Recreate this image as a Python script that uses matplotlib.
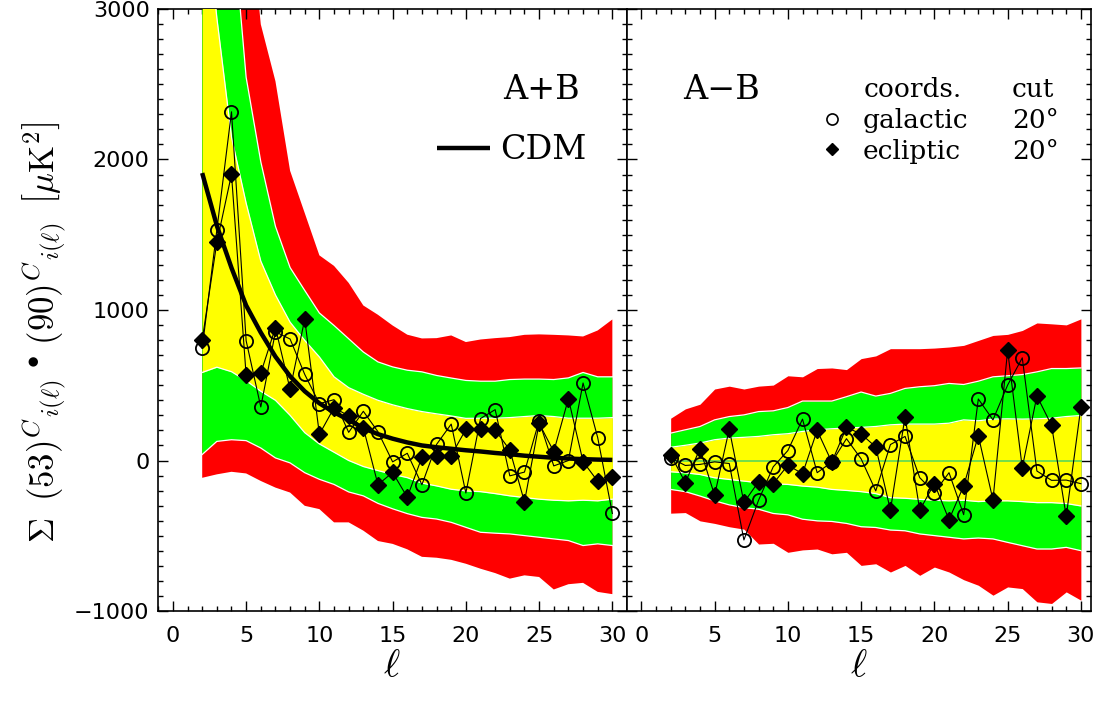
"""Cross-power sums C(53)·C(90) per multipole, A+B and A-B, with CDM bands."""
import matplotlib
matplotlib.use("Agg")
import matplotlib.pyplot as plt
from matplotlib.lines import Line2D
from matplotlib.ticker import MultipleLocator

plt.rcParams["mathtext.fontset"] = "cm"
plt.rcParams["font.family"] = ["DejaVu Sans"]

ELL = list(range(2, 31))

# ---- A+B panel -------------------------------------------------------------
SUM_GALACTIC = [745, 1532, 2317, 796, 356, 855, 807, 572, 378, 404, 187, 327, 191, -9,
                48, -161, 107, 242, -216, 279, 338, -102, -77, 264, -36, 0, 515, 152, -352]
SUM_ECLIPTIC = [800, 1449, 1901, 565, 581, 883, 473, 939, 174, 350, 297, 218, -161, -79,
                -244, 22, 27, 33, 207, 207, 202, 70, -275, 247, 59, 411, -7, -138, -110]
SUM_CDM = [1910, 1560, 1280, 1030, 850, 690, 560, 460, 380, 320, 270, 215, 175, 145,
           120, 100, 88, 78, 68, 60, 50, 42, 32, 25, 18, 13, 9, 6, 4]

SUM_RED_HI = [4600, 4400, 4200, 3900, 2898, 2520, 1925, 1644, 1363, 1293, 1180, 1030, 968, 897,
              836, 811, 813, 831, 787, 804, 813, 820, 835, 838, 835, 831, 824, 864, 937]
SUM_GREEN_HI = [4900, 4300, 3672, 2546, 1985, 1556, 1282, 1130, 980, 897, 809, 721, 655, 622,
                600, 589, 565, 548, 532, 527, 527, 538, 541, 541, 538, 549, 585, 556, 556]
SUM_YELLOW_HI = [3900, 2942, 2150, 1710, 1325, 1100, 919, 798, 688, 556, 484, 440, 400, 370,
                 345, 325, 310, 296, 280, 281, 281, 285, 292, 299, 292, 281, 281, 281, 285]
SUM_YELLOW_LO = [585, 620, 590, 530, 460, 400, 300, 185, 110, 55, 0, -40, -67, -92,
                 -114, -150, -169, -191, -202, -207, -220, -235, -246, -257, -264, -268, -264, -268, -257]
SUM_GREEN_LO = [40, 127, 138, 132, 83, 17, -16, -81, -125, -159, -209, -235, -285, -321,
                -353, -378, -389, -411, -444, -477, -483, -488, -499, -510, -521, -532, -565, -554, -565]
SUM_RED_LO = [-115, -92, -75, -86, -136, -180, -213, -301, -323, -411, -411, -466, -535, -554,
              -590, -640, -646, -660, -686, -719, -748, -785, -763, -774, -857, -822, -813, -873, -888]

# ---- A-B panel -------------------------------------------------------------
DIF_GALACTIC = [17, -33, -26, -9, -20, -528, -264, -42, 66, 275, -81, -11, 145, 11,
                -202, 106, 160, -114, -213, -81, -360, 409, 270, 501, 682, -70, -132, -130, -154]
DIF_ECLIPTIC = [39, -147, 79, -231, 209, -279, -141, -154, -31, -88, 200, -11, 220, 176,
                90, -330, 292, -330, -154, -393, -169, 165, -262, 732, -48, 429, 233, -371, 354]
DIF_ZERO = [0] * len(ELL)

DIF_RED_HI = [281, 343, 374, 475, 494, 475, 494, 501, 563, 556, 611, 615, 604, 677,
              695, 743, 743, 743, 747, 754, 765, 798, 831, 838, 864, 914, 908, 901, 941]
DIF_GREEN_HI = [182, 204, 226, 270, 292, 303, 325, 330, 352, 395, 395, 395, 424, 455,
                428, 446, 479, 490, 497, 512, 505, 527, 556, 563, 571, 589, 611, 611, 615]
DIF_YELLOW_HI = [88, 101, 116, 138, 149, 154, 160, 171, 178, 193, 204, 211, 215, 220,
                 226, 237, 242, 242, 242, 248, 270, 264, 275, 277, 275, 277, 281, 292, 299]
DIF_YELLOW_LO = [-75, -82, -93, -115, -126, -137, -148, -155, -159, -170, -177, -192, -199, -207,
                 -220, -247, -251, -258, -264, -268, -264, -273, -268, -268, -273, -280, -280, -286, -302]
DIF_GREEN_LO = [-192, -207, -236, -268, -295, -313, -324, -352, -361, -390, -401, -405, -418, -440,
                -445, -462, -467, -488, -499, -510, -521, -515, -521, -544, -566, -588, -588, -577, -599]
DIF_RED_LO = [-350, -346, -401, -418, -440, -456, -555, -550, -610, -594, -588, -620, -610, -697,
              -686, -741, -697, -763, -708, -741, -792, -829, -895, -840, -851, -939, -950, -873, -928]

YELLOW = "#ffff00"
GREEN = "#00ff00"
RED = "#ff0000"
SERIF = "DejaVu Serif"


def draw_bands(ax, red_lo, green_lo, yellow_lo, yellow_hi, green_hi, red_hi):
    ax.fill_between(ELL, red_lo, red_hi, color=RED, lw=0, zorder=1)
    ax.fill_between(ELL, green_lo, green_hi, color=GREEN, lw=0, zorder=2)
    ax.fill_between(ELL, yellow_lo, yellow_hi, color=YELLOW, lw=0, zorder=3)
    # thin white seams between the bands
    for edge in (green_lo, yellow_lo, yellow_hi, green_hi):
        ax.plot(ELL, edge, color="white", lw=0.9, zorder=4)


def draw_points(ax, gal, ecl):
    ax.plot(ELL, gal, color="k", lw=0.8, marker="o", ms=9.5, mfc="none",
            mec="k", mew=1.3, zorder=6)
    ax.plot(ELL, ecl, color="k", lw=0.8, marker="D", ms=8.5, mfc="k",
            mec="k", zorder=7)


def style_axis(ax, xlim, ylabels=True):
    ax.set_xlim(*xlim)
    ax.set_ylim(-1000, 3000)
    ax.xaxis.set_major_locator(MultipleLocator(5))
    ax.xaxis.set_minor_locator(MultipleLocator(1))
    ax.yaxis.set_major_locator(MultipleLocator(1000))
    ax.yaxis.set_minor_locator(MultipleLocator(100))
    ax.tick_params(which="both", direction="in", top=True, right=True,
                   labelsize=16, width=1.0)
    ax.tick_params(which="major", length=7)
    ax.tick_params(which="minor", length=3.5)
    ax.tick_params(axis="x", pad=11)
    ax.tick_params(axis="y", pad=6)
    if not ylabels:
        ax.tick_params(labelleft=False)
    for s in ax.spines.values():
        s.set_linewidth(1.2)


fig = plt.figure(figsize=(11, 7.08), dpi=100)
fig.patch.set_facecolor("white")
ax_l = fig.add_axes([0.1436, 0.137, 0.4264, 0.8503])
ax_r = fig.add_axes([0.570, 0.137, 0.4218, 0.8503])

# left: A+B
draw_bands(ax_l, SUM_RED_LO, SUM_GREEN_LO, SUM_YELLOW_LO,
           SUM_YELLOW_HI, SUM_GREEN_HI, SUM_RED_HI)
cdm_line, = ax_l.plot(ELL, SUM_CDM, color="k", lw=3.2, zorder=5,
                      solid_capstyle="butt")
draw_points(ax_l, SUM_GALACTIC, SUM_ECLIPTIC)
style_axis(ax_l, (-1.02, 31.0))
ax_l.text(0.817, 0.866, "A+B", transform=ax_l.transAxes, ha="center",
          va="center", fontsize=24, family=SERIF)
ax_l.legend(handles=[cdm_line], labels=["CDM"], loc="center left",
            bbox_to_anchor=(0.595, 0.765), frameon=False, borderpad=0,
            borderaxespad=0, handlelength=1.6, handletextpad=0.3,
            prop={"family": SERIF, "size": 24})

# right: A-B
draw_bands(ax_r, DIF_RED_LO, DIF_GREEN_LO, DIF_YELLOW_LO,
           DIF_YELLOW_HI, DIF_GREEN_HI, DIF_RED_HI)
ax_r.plot(ELL, DIF_ZERO, color="#5ad85a", lw=1.2, zorder=5)
draw_points(ax_r, DIF_GALACTIC, DIF_ECLIPTIC)
style_axis(ax_r, (-0.98, 30.69), ylabels=False)
ax_r.text(0.203, 0.866, "A\u2212B", transform=ax_r.transAxes, ha="center",
          va="center", fontsize=24, family=SERIF)

handles = [
    Line2D([], [], ls="none", marker="o", ms=8, mfc="none", mec="k", mew=1.2),
    Line2D([], [], ls="none", marker="D", ms=6.5, mfc="k", mec="k"),
]
ax_r.legend(handles=handles, labels=["galactic", "ecliptic"], loc="upper left",
            bbox_to_anchor=(0.413, 0.835), frameon=False, borderpad=0,
            borderaxespad=0, handlelength=1.0, handletextpad=0.67,
            labelspacing=0.2, prop={"family": SERIF, "size": 19})
ax_r.text(0.509, 0.866, "coords.", transform=ax_r.transAxes, va="center",
          fontsize=19, family=SERIF)
ax_r.text(0.830, 0.866, "cut", transform=ax_r.transAxes, va="center",
          fontsize=19, family=SERIF)
for ypos in (0.815, 0.764):
    ax_r.text(0.830, ypos, "20\u00b0", transform=ax_r.transAxes, va="center",
              fontsize=19, family=SERIF)

# axis titles
for xc in (392 / 1100, 859 / 1100):
    fig.text(xc, (708 - 665) / 708, r"$\ell$", ha="center", va="center",
             fontsize=28)
fig.text(0.041, 0.53,
         r"$\Sigma\;\;(53)^{C}{}_{i(\ell)}\;^{\bullet}\;(90)^{C}{}_{i(\ell)}"
         r"\;\;\left[\mu\mathrm{K}^{2}\right]$",
         rotation=90, ha="center", va="center", fontsize=25)

fig.savefig("out.png", dpi=100, facecolor="white")
